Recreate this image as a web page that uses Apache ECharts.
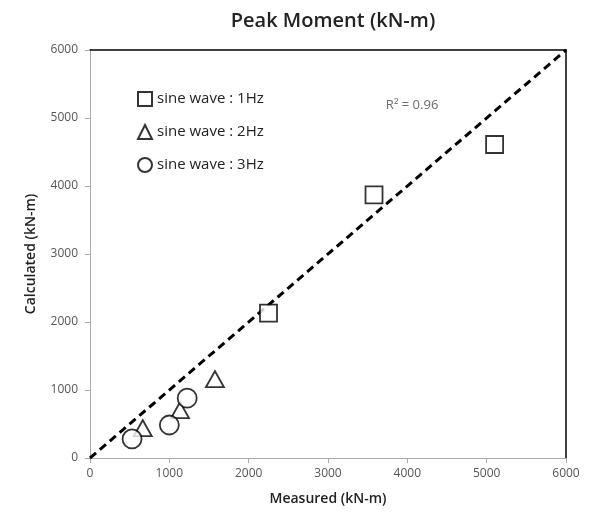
<!DOCTYPE html>
<html>
<head>
<meta charset="utf-8">
<script src="https://cdn.jsdelivr.net/npm/echarts@6/dist/echarts.min.js"></script>
<style>
  html, body { margin: 0; padding: 0; background: #fff; }
  #chart { width: 590px; height: 516px; }
</style>
</head>
<body>
<div id="chart"></div>
<script>
// measured vs calculated peak moment, kN-m
const wave1Hz = [[2250, 2130], [3580, 3870], [5100, 4610]];
const wave2Hz = [[665, 440], [1135, 705], [1575, 1160]];
const wave3Hz = [[530, 280], [1000, 485], [1225, 880]];
const seriesNames = ['sine wave : 1Hz', 'sine wave : 2Hz', 'sine wave : 3Hz'];
const fitLine = [[0, 0], [6000, 6000]];
const r2Label = [[4060, 5190]];

const font = 'Open Sans';
const chart = echarts.init(document.getElementById('chart'));

const markerStyle = { color: '#fff', borderColor: '#000', borderWidth: 1.8 };

const option = {
    animation: false,
    title: {
        text: 'Peak Moment (kN-m)',
        left: 328, top: 6, textAlign: 'center',
        textStyle: { fontFamily: font, fontSize: 20, fontWeight: 600, color: '#222' }
    },
    legend: {
        data: seriesNames,
        orient: 'vertical',
        left: 132, top: 86,
        itemWidth: 14, itemHeight: 14, itemGap: 17,
        textStyle: { fontFamily: font, fontSize: 15, color: '#222' }
    },
    grid: { left: 90, right: 24, top: 50, bottom: 58 },
    xAxis: [{
        type: 'value', min: 0, max: 6000, interval: 1000,
        name: 'Measured (kN-m)', nameLocation: 'middle', nameGap: 34,
        nameTextStyle: { fontFamily: font, fontSize: 14, fontWeight: 600, color: '#222' },
        axisLine: { lineStyle: { color: '#aaa' } },
        axisTick: { show: true, lineStyle: { color: '#aaa' } },
        axisLabel: { fontFamily: font, fontSize: 12, color: '#555', margin: 10, formatter: v => String(v) },
        splitLine: { show: false }
    }, {
        type: 'value', position: 'top', min: 0, max: 6000,
        axisLine: { show: true, onZero: false, lineStyle: { color: '#000', width: 1.5 } },
        axisTick: { show: false }, axisLabel: { show: false }, splitLine: { show: false }
    }],
    yAxis: [{
        type: 'value', min: 0, max: 6000, interval: 1000,
        name: 'Calculated (kN-m)', nameLocation: 'middle', nameGap: 52,
        nameTextStyle: { fontFamily: font, fontSize: 14, fontWeight: 600, color: '#222' },
        axisLine: { show: true, lineStyle: { color: '#aaa' } },
        axisTick: { show: true, lineStyle: { color: '#aaa' } },
        axisLabel: { fontFamily: font, fontSize: 12, color: '#555', margin: 12, formatter: v => String(v) },
        splitLine: { show: false }
    }, {
        type: 'value', position: 'right', min: 0, max: 6000,
        axisLine: { show: true, onZero: false, lineStyle: { color: '#000', width: 1.5 } },
        axisTick: { show: false }, axisLabel: { show: false }, splitLine: { show: false }
    }],
    series: [{
        name: seriesNames[0], type: 'scatter', symbol: 'rect', symbolSize: 17,
        itemStyle: markerStyle, data: wave1Hz, z: 5
    }, {
        name: seriesNames[1], type: 'scatter', symbol: 'triangle', symbolSize: [18, 16],
        itemStyle: markerStyle, data: wave2Hz, z: 5
    }, {
        name: seriesNames[2], type: 'scatter', symbol: 'circle', symbolSize: 19,
        itemStyle: markerStyle, data: wave3Hz, z: 5
    }, {
        type: 'line', data: fitLine, symbol: 'none', silent: true,
        lineStyle: { color: '#000', width: 3, type: [8, 5] }, z: 3
    }, {
        type: 'scatter', data: r2Label, symbolSize: 0, silent: true,
        label: {
            show: true, formatter: 'R² = 0.96', position: 'inside',
            fontFamily: font, fontSize: 13, color: '#444'
        }
    }]
};

chart.setOption(option);
window.addEventListener('resize', () => chart.resize());
</script>
</body>
</html>
